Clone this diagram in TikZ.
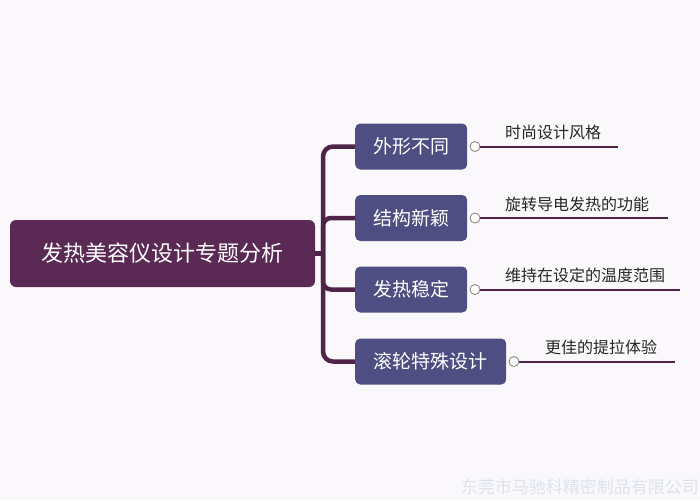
\documentclass[tikz,border=0pt]{standalone}
\usepackage{fontspec}
\newfontfamily\cjk{Noto Sans CJK SC}
\definecolor{rootc}{HTML}{5A2A55}
\definecolor{boxc}{HTML}{4F4E82}
\definecolor{linec}{HTML}{4E2448}
\definecolor{bgc}{HTML}{FBF8FB}
\definecolor{wmc}{HTML}{DCE4EE}
\tikzset{
 rootbox/.style={fill=rootc,rounded corners=6pt,text=white,font=\cjk\fontsize{22}{24}\selectfont,minimum width=305pt,minimum height=67pt,inner sep=0pt},
 subbox/.style={fill=boxc,rounded corners=5pt,text=white,font=\cjk\fontsize{19}{22}\selectfont,minimum height=46pt,inner sep=0pt,anchor=west},
 trunk/.style={draw=linec,line width=4.5pt,rounded corners=10pt},
 leafline/.style={draw=linec,line width=2pt},
 knob/.style={circle,draw=gray,fill=white,line width=0.8pt,minimum size=10pt,inner sep=0pt},
 leaftxt/.style={font=\cjk\fontsize{16}{18}\selectfont,text=black!85,anchor=south west,inner sep=0pt}
}
\begin{document}
\begin{tikzpicture}[x=1pt,y=-1pt]
\fill[bgc] (0,0) rectangle (700,500);
\useasboundingbox (0,0) rectangle (700,500);
\node[rootbox] (root) at (162.5,253.5) {发热美容仪设计专题分析};
\node[subbox,minimum width=112pt] (a) at (355,146.5) {外形不同};
\node[subbox,minimum width=112pt] (b) at (355,218) {结构新颖};
\node[subbox,minimum width=112pt] (c) at (355,289.5) {发热稳定};
\node[subbox,minimum width=151pt] (d) at (355,361.5) {滚轮特殊设计};
\coordinate (j) at (323,253.5);
\draw[trunk] (root.east) -- (j);
\draw[trunk] (a.west) -| (j) |- (d.west);
\draw[trunk,rounded corners=8pt] (b.west) -| (j) |- (c.west);
\coordinate (ea) at (618,146.5);
\coordinate (eb) at (668,218);
\coordinate (ec) at (680,289.5);
\coordinate (ed) at (675,361.5);
\node[knob] (ka) at (475,146.5) {};
\node[knob] (kb) at (475,218) {};
\node[knob] (kc) at (475,289.5) {};
\node[knob] (kd) at (514,361.5) {};
\draw[leafline] (ka) -- (ea);
\draw[leafline] (kb) -- (eb);
\draw[leafline] (kc) -- (ec);
\draw[leafline] (kd) -- (ed);
\node[leaftxt] (ta) at (505,140) {时尚设计风格};
\node[leaftxt] (tb) at (505,212) {旋转导电发热的功能};
\node[leaftxt] (tc) at (505,283) {维持在设定的温度范围};
\node[leaftxt] (td) at (545,355) {更佳的提拉体验};
\node[font=\cjk\fontsize{17}{19}\selectfont,text=wmc,anchor=east,inner sep=0pt] (wm) at (699,487) {东莞市马驰科精密制品有限公司};
\end{tikzpicture}
\end{document}
